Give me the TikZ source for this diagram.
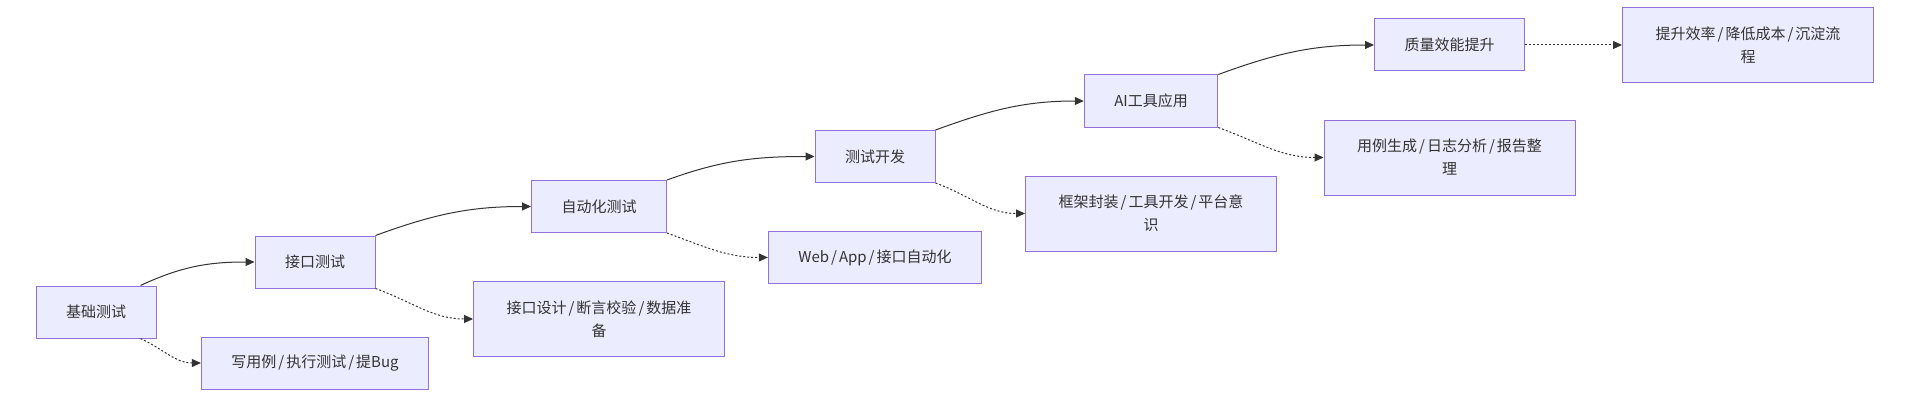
\documentclass[tikz,border=0pt]{standalone}
\usepackage{fontspec}
\setmainfont{Noto Sans CJK SC}
\usetikzlibrary{arrows.meta, positioning}
\definecolor{boxfill}{HTML}{ECECFF}
\definecolor{boxline}{HTML}{9370DB}
\definecolor{ink}{HTML}{333333}
\newcommand{\slsep}{\kern2pt/\kern2pt}
\tikzset{box/.style={rectangle,draw=boxline,fill=boxfill,line width=1pt,align=center,inner xsep=30pt,inner ysep=0pt,minimum height=52pt,text=ink,font=\fontsize{15}{23}\selectfont},
  wide/.style={box,minimum width=251pt,minimum height=75pt},
  line/.style={draw=ink,line width=1pt,-{Triangle[length=9pt,width=8pt]}},
  dotline/.style={line,dash pattern=on 2pt off 2pt}}

\begin{document}
\begin{tikzpicture}[x=1pt,y=-1pt,node distance=48pt and 97pt]
\useasboundingbox (0,0) rectangle (1909,396);
\node[box] (jichu) at (96,312) {基础测试};
\node[box] (jiekou) at (315,262) {接口测试};
\node[box] (zidong) at (599,206.5) {自动化测试};
\node[box] (kaifa) at (875,156.5) {测试开发};
\node[box] (ai) at (1151,101) {AI工具应用};
\node[box] (zhiliang) at (1449.5,45) {质量效能提升};
\node[box, below=of jiekou] (xie) {写用例\slsep 执行测试\slsep 提Bug};
\node[wide, below=of zidong] (sheji) {接口设计\slsep 断言校验\slsep 数据准\\备};
\node[box, below=of kaifa] (web) {Web\slsep App\slsep 接口自动化};
\node[wide, below=of ai] (kuangjia) {框架封装\slsep 工具开发\slsep 平台意\\识};
\node[wide, below=of zhiliang] (yongli) {用例生成\slsep 日志分析\slsep 报告整\\理};
\node[wide, right=of zhiliang] (tisheng) {提升效率\slsep 降低成本\slsep 沉淀流\\程};
\draw[line] ([xshift=-16pt]jichu.north east) to[out=25,in=180] (jiekou.west);
\draw[line] (jiekou.north east) to[out=20,in=180] (zidong.west);
\draw[line] (zidong.north east) to[out=20,in=180] (kaifa.west);
\draw[line] (kaifa.north east) to[out=20,in=180] (ai.west);
\draw[line] (ai.north east) to[out=20,in=180] (zhiliang.west);
\draw[dotline] ([xshift=-16pt]jichu.south east) to[out=-25,in=180] (xie.west);
\draw[dotline] (jiekou.south east) to[out=-20,in=180] (sheji.west);
\draw[dotline] (zidong.south east) to[out=-20,in=180] (web.west);
\draw[dotline] (kaifa.south east) to[out=-20,in=180] (kuangjia.west);
\draw[dotline] (ai.south east) to[out=-20,in=180] (yongli.west);
\draw[dotline] (zhiliang) -- (tisheng);
\end{tikzpicture}
\end{document}
